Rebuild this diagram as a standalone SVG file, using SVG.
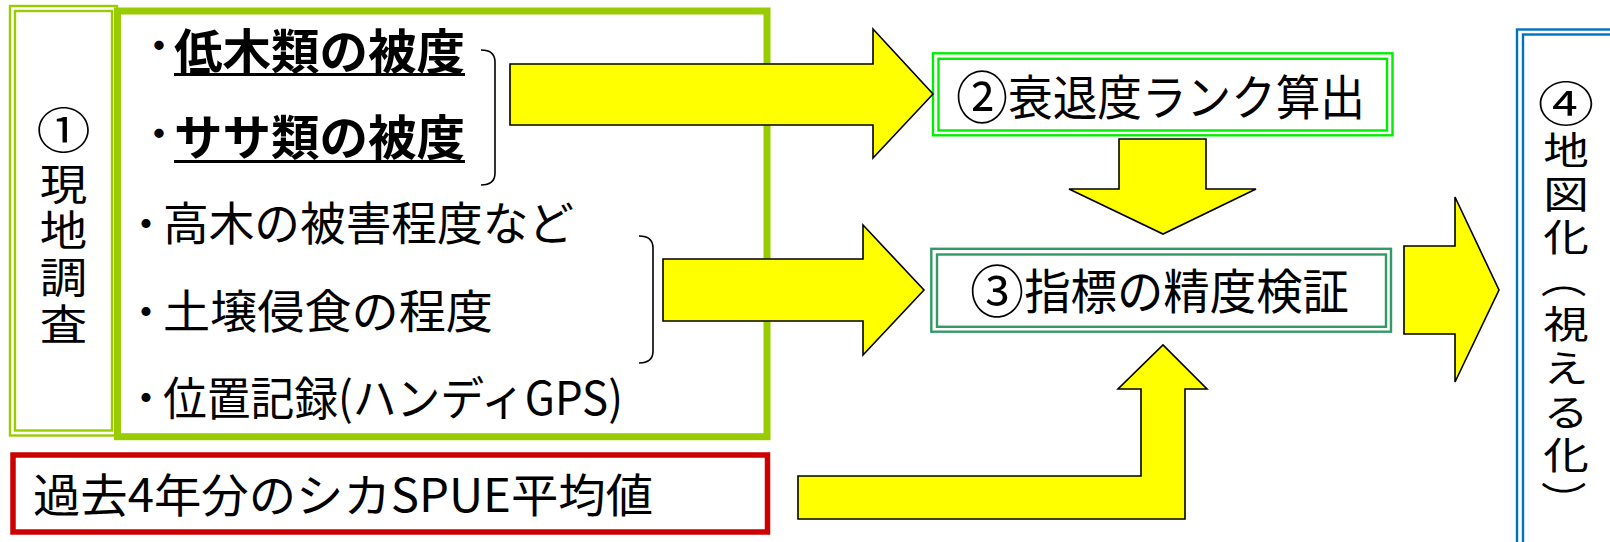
<svg xmlns="http://www.w3.org/2000/svg" width="1610" height="542" viewBox="0 0 1610 542">
<style>
text{font-family:"Noto Sans CJK JP","Noto Sans",sans-serif;fill:#000}
.t46{font-size:46px}
.t48{font-size:48px}
.b{font-weight:bold}
.vert{writing-mode:vertical-rl}
.arrow{fill:#ffff00;stroke:#000;stroke-width:1.6;stroke-linejoin:miter}
.brace{fill:none;stroke:#000;stroke-width:1.6}
.dbl1{fill:none;stroke:#99cc00;stroke-width:2.4}
.dbl2{fill:none;stroke:#00ee00;stroke-width:2.4}
.dbl3{fill:none;stroke:#339966;stroke-width:2.4}
.dbl4{fill:none;stroke:#0070c0;stroke-width:2.4}
</style>
<rect width="1610" height="542" fill="#fff"/>

<g id="node-survey-label">
<rect class="dbl1" x="10" y="6" width="107" height="429.5"/>
<rect class="dbl1" x="15" y="11" width="97" height="419.5"/>
<text transform="translate(63.5 148) scale(1.13 1)" x="0" y="0" text-anchor="middle" style="font-size:48px">①</text>
<text class="vert" transform="translate(63.5 0) scale(1.13 1)" x="0" y="162.7" style="font-size:42px;letter-spacing:4.7px">現地調査</text>
</g>

<g id="node-survey-items">
<rect x="117.5" y="11" width="649.5" height="425.7" fill="none" stroke="#99cc00" stroke-width="7"/>
<text class="t48 b" x="159" y="63" text-anchor="middle">･</text>
<text class="t48 b" x="174" y="69" textLength="291" lengthAdjust="spacingAndGlyphs">低木類の被度</text>
<rect x="174" y="73" width="291" height="3"/>
<text class="t48 b" x="159" y="151" text-anchor="middle">･</text>
<text class="t48 b" x="174" y="155" textLength="291" lengthAdjust="spacingAndGlyphs">ササ類の被度</text>
<rect x="174" y="160" width="291" height="3"/>
<text class="t46 b" x="146" y="239.5" text-anchor="middle">･</text>
<text class="t46" x="163" y="240" textLength="411" lengthAdjust="spacingAndGlyphs">高木の被害程度など</text>
<text class="t46 b" x="146" y="327.5" text-anchor="middle">･</text>
<text class="t46" x="163" y="328" textLength="330" lengthAdjust="spacingAndGlyphs">土壌侵食の程度</text>
<text class="t46 b" x="146" y="413.5" text-anchor="middle">･</text>
<text class="t46" x="163" y="415" textLength="460" lengthAdjust="spacingAndGlyphs">位置記録(ハンディGPS)</text>
</g>

<g id="node-spue">
<rect x="13" y="455" width="754.5" height="77" fill="none" stroke="#cc0000" stroke-width="5.5"/>
<text class="t46" x="33" y="511.5" textLength="620" lengthAdjust="spacingAndGlyphs">過去4年分のシカSPUE平均値</text>
</g>

<g id="node-rank">
<rect class="dbl2" x="933" y="53.3" width="459.5" height="82"/>
<rect class="dbl2" x="938.5" y="58.8" width="448.5" height="71.7"/>
<text class="t48" x="956" y="114.6" textLength="409" lengthAdjust="spacingAndGlyphs"><tspan style="font-size:56px" dy="3">②</tspan><tspan dy="-3">衰退度ランク算出</tspan></text>
</g>

<g id="node-verify">
<rect class="dbl3" x="931.3" y="248.8" width="459.7" height="82.9"/>
<rect class="dbl3" x="937" y="254.5" width="449" height="72.3"/>
<text class="t48" x="970" y="308.5" textLength="379" lengthAdjust="spacingAndGlyphs"><tspan style="font-size:56px" dy="3">③</tspan><tspan dy="-3">指標の精度検証</tspan></text>
</g>

<g id="node-map">
<rect class="dbl4" x="1517" y="29.5" width="200" height="600"/>
<rect class="dbl4" x="1523" y="34.5" width="200" height="600"/>
<text transform="translate(1566 121.4) scale(1.2 1)" x="0" y="0" text-anchor="middle" style="font-size:47px">④</text>
<text class="vert" transform="translate(1566 0) scale(1.2 1)" x="0" y="130.6" style="font-size:38px;letter-spacing:5.6px">地図化</text>
<text transform="translate(1566 279) scale(1.2 1) rotate(90)" x="0" y="0" text-anchor="middle" dominant-baseline="central" style="font-size:38px">（</text>
<text class="vert" transform="translate(1566 0) scale(1.2 1)" x="0" y="305" style="font-size:38px;letter-spacing:5.6px">視える化</text>
<text transform="translate(1566 500) scale(1.2 1) rotate(90)" x="0" y="0" text-anchor="middle" dominant-baseline="central" style="font-size:38px">）</text>
</g>

<g id="connectors">
<path class="brace" d="M481,50 Q495,50 495,62 L495,173 Q495,185 481,185"/>
<path class="brace" d="M639,236 Q653,236 653,248 L653,351 Q653,363 639,363"/>
<polygon class="arrow" points="510,64 873,64 873,29 933,94 873,158 873,125 510,125"/>
<polygon class="arrow" points="663,259 863,259 863,225 924,290 863,355 863,321 663,321"/>
<polygon class="arrow" points="1119,139 1206,139 1206,189 1256,189 1163,234 1069,189 1119,189"/>
<polygon class="arrow" points="798,476 1141,476 1141,389 1118,389 1163,345 1207,389 1185,389 1185,519 798,519"/>
<polygon class="arrow" points="1404,246 1455,246 1455,197 1499,290 1455,382 1455,334 1404,334"/>
</g>
</svg>
